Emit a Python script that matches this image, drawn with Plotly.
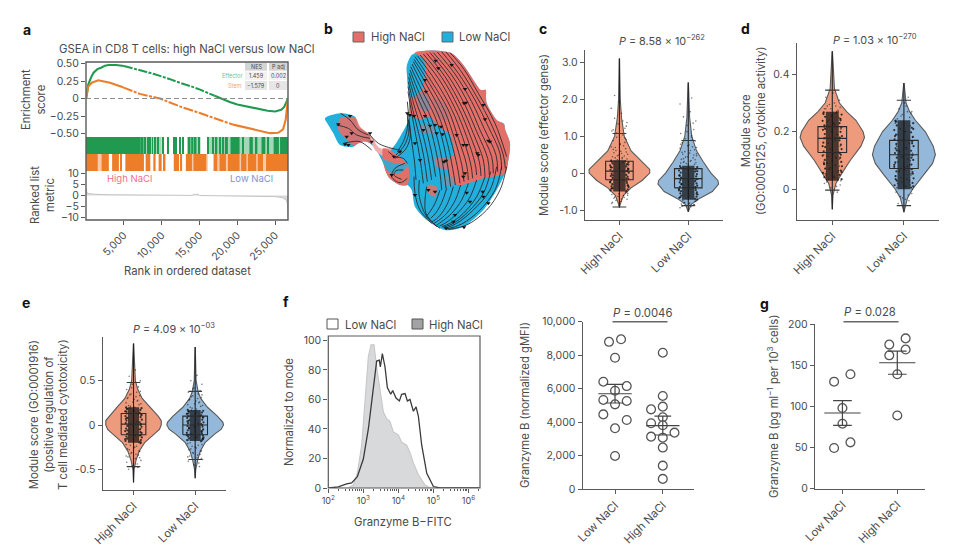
import plotly.graph_objects as go

# ---------- panel a ----------
RANK_GREEN = [0,100,300,500,700,1000,1500,2000,2500,3000,4000,5000,6000,7000,8000,9000,10000,11000,12000,13000,14000,15000,16000,17000,18000,19000,20000,21000,22000,23000,24000,25000,25800,26200,26500,26700]
ES_GREEN = [0,.05,.2,.27,.31,.37,.42,.44,.47,.48,.48,.465,.44,.41,.38,.35,.32,.28,.24,.21,.17,.13,.08,.04,-.01,-.05,-.085,-.11,-.13,-.15,-.175,-.185,-.16,-.12,-.05,0]
RANK_ORANGE = [0,100,300,750,1630,3170,4900,7100,9770,12400,15050,17250,19450,22100,24300,25400,26050,26400,26570,26700]
ES_ORANGE = [0,.08,.17,.226,.26,.226,.16,.066,0,-.113,-.208,-.29,-.373,-.443,-.495,-.49,-.44,-.3,-.11,0]
GREEN_SPANS = [[0,7250],[7400,7600],[7750,7850],[8100,8300],[8450,8600],[8750,8850],[9050,9250],[9500,9650],[10050,10200],[10800,10950],[11500,11650],[11800,11950],[12350,12500],[12800,12950],[13450,13800],[13900,14200],[14350,14600],[14800,15100],[16100,16250],[16700,16900],[17050,17350],[17600,17850],[18100,18250],[18500,18750],[19100,20300],[20700,20850],[21600,22050],[22450,22650],[23200,23700],[24050,24200],[24800,25500],[25650,26700]]
GREEN_FAINT = [[7250,10000],[13400,15000],[16000,26700]]
ORANGE_SPANS = [[0,1550],[2030,3020],[3450,4350],[4500,4650],[5200,7660],[7880,8500],[8900,9200],[9600,10000],[10300,10500],[11600,12300],[12500,12700],[13200,14000],[14200,15900],[16900,17350],[17650,18500],[18750,20300],[20500,21200],[21400,22500],[22700,23400],[23800,26700]]
ORANGE_FAINT = [[0,2000],[13400,16100],[16800,26700]]
METRIC_RANK = [0,60,300,1000,3000,5000,10000,14000,14200,14800,15000,20000,23000,25000,26000,26500,26650,26700]
METRIC_VAL = [3,1.6,.9,.6,.35,.3,.15,.05,.5,.5,0,-.1,-.2,-.5,-1,-2.2,-4,-10]
A_TICKS = [5000,10000,15000,20000,25000]
A_TICKTEXT = ["5,000","10,000","15,000","20,000","25,000"]

# ---------- panel b (embedding coordinates) ----------
BODY_X = [275,300,350,395,430,470,482,497,498,500,530,552,555,570,565,555,530,490,430,375,320,285,275,262,240,205,190,165,150,115,105,60,15,25,40,60,100,130,180,215,240,265,268,260]
BODY_Y = [135,125,122,130,165,225,240,240,262,280,330,342,358,400,450,490,540,600,650,660,630,590,540,525,525,500,460,410,375,350,320,310,325,345,370,405,410,390,420,415,380,330,250,170]
RED_X = [285,350,395,430,470,482,497,498,500,530,552,555,570,565,555,490,425,400,385,400,390,350,330,300,270,272,305,312]
RED_Y = [128,122,130,165,225,240,240,262,280,330,342,358,400,450,490,505,525,520,460,430,375,345,320,330,310,260,240,150]
BLUEP1_X = [272,300,312,300,285,268,262]
BLUEP1_Y = [150,140,190,240,262,250,190]
MIX_A_X = [290,320,330,305]
MIX_A_Y = [250,255,300,300]
MIX_B_X = [340,375,385,350]
MIX_B_Y = [265,280,330,320]
RED_C_X = [345,395,400,350]
RED_C_Y = [445,450,478,470]
RED_D_X = [300,340,345,305]
RED_D_Y = [345,350,370,368]
RED2_X = [325,350,345,325]
RED2_Y = [525,530,560,550]
RED3_X = [370,405,400,372]
RED3_Y = [500,505,525,525]
ISLE_RED_X = [60,105,120,150,165,130,100,75,55]
ISLE_RED_Y = [325,322,350,375,400,395,405,385,360]
ISLE_PINK_X = [150,180,215,195,165]
ISLE_PINK_Y = [375,415,415,440,420]
NECK_RED_X = [190,240,265,262,240,205,190]
NECK_RED_Y = [415,440,470,525,525,500,460]
NECK_BLUE_X = [190,225,262,240,205]
NECK_BLUE_Y = [450,460,465,490,485]
STREAMS = [
 ([390,430,475,525,560],[128,175,250,340,440]),
 ([378,422,470,515,550,556],[126,182,260,345,435,475]),
 ([365,415,465,505,540,545],[125,190,270,350,430,480]),
 ([352,405,455,492,528,533],[126,192,275,355,435,485]),
 ([340,395,445,480,515,520],[128,195,280,360,440,490]),
 ([330,385,435,470,503,508],[128,198,285,365,445,495]),
 ([320,375,425,460,490,495],[130,200,290,370,450,500]),
 ([310,365,415,450,478,483],[132,202,292,375,455,498]),
 ([300,355,405,440,465,470],[135,205,295,380,460,495]),
 ([292,345,395,428,452,458],[137,210,298,382,462,505]),
 ([285,335,385,415,440,445],[140,215,300,385,465,510]),
 ([282,328,375,404,426,432],[148,220,305,388,468,515]),
 ([280,320,365,392,412,420],[155,225,310,390,470,520]),
 ([276,312,355,381,398,406],[162,232,315,395,475,525]),
 ([272,305,345,370,385,392],[170,240,320,400,480,530]),
 ([270,298,335,357,372,378],[180,250,328,405,485,535]),
 ([268,292,325,345,360,365],[190,260,335,410,490,540]),
 ([266,287,315,333,347],[202,272,348,420,500]),
 ([265,282,305,322,335],[215,285,360,430,510]),
 ([264,278,296,311,322],[230,298,370,438,515]),
 ([264,275,288,300,310],[245,310,380,445,520]),
 ([262,268,275,283,288],[275,335,395,450,510]),
 ([262,262,250,232],[310,355,395,425]),
 ([265,266,252,228],[328,370,408,435]),
 ([268,270,255,225],[345,385,420,445]),
 ([560,540,500,440,385],[470,540,600,645,658]),
 ([545,525,480,425,380],[470,540,600,642,657]),
 ([530,510,460,410,375],[470,540,600,640,655]),
 ([512,490,445,400,370],[485,550,605,640,652]),
 ([495,470,430,390,365],[500,560,610,640,650]),
 ([470,448,412,378,358],[510,565,610,638,648]),
 ([445,425,395,365,350],[520,570,610,635,645]),
 ([422,405,380,355,342],[525,572,610,632,640]),
 ([400,385,365,345,335],[530,575,610,630,635]),
 ([380,365,348,332],[535,578,608,625]),
 ([360,345,330,318],[540,580,605,620]),
 ([320,315,318,350],[530,570,610,650]),
 ([298,298,320,360],[510,560,620,655]),
 ([282,285,300,335],[500,550,600,640]),
 ([255,225,215,240,262],[460,475,500,518,505]),
 ([250,228,222,245],[480,482,495,508]),
 ([205,225,250,262],[425,440,445,460]),
 ([62,90,115,145],[310,330,360,375]),
 ([50,85,110,150],[345,355,375,385]),
 ([70,95,120,155],[400,395,395,420]),
 ([150,175,215,240],[375,400,415,420]),
]
ARROW_X = [347,355,395,315,318,435,432,438,490,495,315,262,270,282,345,363,350,368,410,430,440,505,510,475,472,435,430,372,378,330,310,345,440,488,490,505,450,405,400,378,432,285,222,240,215,95,80,55,150,155,75,85,90,285,300,325]
ARROW_Y = [152,175,165,210,245,237,280,278,285,328,318,310,315,318,345,350,370,373,375,405,405,392,395,435,430,490,500,455,452,347,360,545,548,545,560,580,575,615,635,655,652,555,440,425,495,370,380,343,370,395,403,405,318,400,450,540]

# ---------- panels c, d, e: violins ----------
CATS_VIOLIN = ["High NaCl","Low NaCl"]
C_HIGH_Y = [3.1,2,1.5,1.0,.6,.3,.1,0,-.2,-.4,-.6,-.8,-.93]
C_HIGH_W = [.002,.012,.03,.07,.17,.33,.44,.44,.33,.17,.06,.02,0]
C_LOW_Y = [2.45,1.5,1.0,.6,.3,0,-.2,-.3,-.5,-.7,-.85,-1.05]
C_LOW_W = [.002,.02,.05,.12,.22,.33,.43,.44,.35,.15,.04,0]
D_HIGH_Y = [.48,.35,.3,.27,.24,.2,.18,.15,.1,.05,.02,-.02,-.07]
D_HIGH_W = [.002,.03,.10,.2,.33,.43,.45,.40,.25,.12,.05,.01,0]
D_LOW_Y = [.37,.3,.27,.24,.2,.15,.12,.09,.05,0,-.03,-.06,-.08]
D_LOW_W = [.002,.03,.08,.16,.30,.41,.44,.40,.28,.12,.05,.02,0]
E_HIGH_Y = [.92,.5,.4,.3,.2,.1,.05,0,-.05,-.1,-.2,-.3,-.4,-.5,-.65]
E_HIGH_W = [.002,.03,.07,.14,.27,.4,.45,.45,.42,.34,.18,.09,.04,.01,0]
E_LOW_Y = [.88,.5,.37,.3,.2,.1,.03,0,-.05,-.1,-.2,-.3,-.4,-.5,-.6]
E_LOW_W = [.002,.015,.05,.09,.2,.36,.45,.46,.42,.32,.16,.08,.04,.01,0]
# q1, median, q3, lower whisker, upper whisker, core low, core high
C_HIGH_BOX = [-.18,.05,.32,-.92,1.07,-.5,.35]
C_LOW_BOX = [-.4,-.15,.12,-.88,.88,-.72,.2]
D_HIGH_BOX = [.128,.177,.218,-.003,.345,.03,.27]
D_LOW_BOX = [.072,.12,.17,-.057,.31,.0,.24]
E_HIGH_BOX = [-.11,.01,.13,-.47,.48,-.2,.2]
E_LOW_BOX = [-.11,0,.1,-.39,.38,-.18,.17]
JITTER = [.03,-.07,.11,-.02,.08,-.11,.05,-.04,.1,-.09,.01,.06,-.12,.09,-.05,.02,-.08,.12,-.01,.07,-.1,.04,-.06,.11,-.03,.09,-.12,.05,.0,-.07,.1,-.04,.08,-.09,.03,.12,-.11,.06,-.02,.07,-.08,.11,-.05,.02,-.1,.09,-.03,.04,-.12,.1,-.06,.01,.08,-.09,.05,-.01,.12,-.07,.03,-.11]
C_HIGH_DOTS = [1.62,1.48,1.37,1.33,1.21,1.14,1.03,.97,.91,.88,.79,.74,.71,.66,.61,.59,.55,.51,.49,.46,.44,.42,.41,.38,.36,.33,1.75,.28,1.92,2.1,1.27,1.08,.83,.64,.53,-.55,-.58,-.61,-.63,-.66,-.68,-.71,-.74,-.77,-.79,-.52,.47,.39,.35,.57,.69,.77,.95,1.17,1.41,-.56,-.6,-.65,-.7,-.82]
C_LOW_DOTS = [1.66,1.52,1.41,1.29,1.18,1.07,1.01,.93,.87,.82,.76,.71,.67,.63,.58,.54,.51,.47,.44,.41,.37,.34,.31,.28,.26,.24,1.87,2.03,.23,.29,.36,.43,.49,.56,.61,.69,.78,.9,1.12,1.35,-.74,-.77,-.79,-.81,-.84,-.86,-.88,-.91,-.94,-.76,-.8,-.83,-.85,-.9,.97,.74,.52,.39,.32,.27]
D_HIGH_DOTS = [.3,.29,.285,.28,.275,.28,.29,.295,.31,.32,.335,.27,.26,.25,.24,.23,.22,.21,.2,.19,.18,.17,.16,.15,.14,.13,.12,.11,.1,.09,.08,.07,.06,.05,.04,.03,.02,.01,.005,-.01,.025,.015,.035,.045,.055,.065,.075,.085,.095,.105,.115,.125,.27,.28,.265,.255,.245,.235,.225,.215]
D_LOW_DOTS = [.29,.28,.27,.26,.25,.24,.27,.255,.265,.245,.3,.32,.23,.22,.21,.2,.19,.18,.17,.16,.15,.14,.13,.12,.11,.1,.09,.08,.07,.06,.05,.04,.03,.02,.01,.0,-.01,-.02,-.03,-.04,-.05,-.015,-.025,-.035,.005,.015,.025,.035,.045,.055,.065,.075,.085,.095,.105,.115,.125,.135,.145,.155]
E_HIGH_DOTS = [.62,.55,.5,.46,.43,.4,.37,.35,.33,.31,.29,.27,.25,.23,.21,.2,.22,.24,.26,.28,.3,.32,.34,.38,.42,-.2,-.22,-.24,-.26,-.28,-.3,-.32,-.34,-.36,-.38,-.4,-.42,-.44,-.46,-.48,-.5,-.21,-.23,-.25,-.27,-.29,-.31,-.33,-.35,-.37,.19,.16,.12,.08,.04,0,-.04,-.08,-.12,-.16]
E_LOW_DOTS = [.56,.5,.46,.42,.39,.37,.35,.33,.31,.29,.27,.25,.23,.21,.19,.18,.2,.22,.24,.26,.28,.3,.32,.34,.41,-.19,-.21,-.23,-.25,-.27,-.29,-.31,-.33,-.35,-.37,-.39,-.41,-.43,-.45,-.47,-.2,-.22,-.24,-.26,-.28,-.3,-.32,-.34,-.36,-.38,.17,.14,.1,.06,.02,-.02,-.06,-.1,-.14,-.17]
# dots on the rough outer edge of each dense cloud
EDGE_JITTER = [-.12,.13,-.1,.11,-.135,.1,-.11,.125,-.13,.115,-.105,.135,-.115,.1,-.125,.12,-.1,.13,-.12,.105,-.135,.11,-.105,.125,-.115,.135,-.1,.12,-.13,.1,-.11,.13,-.125,.115,-.1,.105,-.135,.12,-.115,.13]
C_HIGH_CORE = [.33,.29,.26,.24,.21,.18,.15,.12,.09,.07,.04,.01,-.02,-.05,-.08,-.1,-.13,-.16,-.19,-.22,-.24,-.27,-.3,-.33,-.36,-.38,-.41,-.44,-.47,-.49,.31,.23,.16,.05,-.06,-.14,-.25,-.34,-.42,.11]
C_LOW_CORE = [.19,.16,.13,.1,.07,.04,.01,-.03,-.06,-.09,-.12,-.16,-.19,-.22,-.25,-.28,-.31,-.34,-.37,-.4,-.43,-.46,-.49,-.52,-.55,-.58,-.61,-.64,-.67,-.7,.14,.05,-.07,-.17,-.29,-.38,-.47,-.56,-.65,-.72]
D_HIGH_CORE = [.268,.26,.252,.245,.238,.23,.222,.215,.207,.2,.192,.185,.177,.17,.162,.155,.147,.14,.132,.125,.117,.11,.102,.095,.087,.08,.072,.065,.057,.05,.042,.035,.263,.24,.21,.18,.15,.12,.09,.06]
D_LOW_CORE = [.238,.23,.222,.214,.206,.198,.19,.182,.174,.166,.158,.15,.142,.134,.126,.118,.11,.102,.094,.086,.078,.07,.062,.054,.046,.038,.03,.022,.014,.006,.235,.21,.185,.16,.135,.11,.085,.06,.035,.01]
E_HIGH_CORE = [.2,.19,.18,.17,.155,.14,.13,.12,.1,.09,.08,.06,.05,.03,.02,.01,-.01,-.02,-.04,-.05,-.07,-.08,-.1,-.11,-.13,-.14,-.15,-.17,-.18,-.19,.185,.11,.07,.0,-.06,-.12,-.16,-.2,.15,-.09]
E_LOW_CORE = [.17,.16,.15,.14,.125,.11,.1,.09,.08,.06,.05,.03,.02,.01,-.01,-.02,-.04,-.05,-.06,-.08,-.09,-.1,-.11,-.12,-.13,-.14,-.15,-.16,-.17,-.18,.155,.085,.04,.0,-.03,-.07,-.115,-.165,.13,-.15]

# ---------- panel f: histogram ----------
LOW_X = [100,193,334,464,674,1000,1390,1930,2400,2860,3060,3490,4160,4850,6040,6880,8570,10700,12400,15500,18100,21500,26800,32000,37300,46400,64600,100000,155000,2100000]
LOW_Y = [0,.7,2.8,3.5,7.6,19.6,40,68,86,86.6,82,91,82,68,63.5,66,61,59,63.5,64,59,60,52,55,48.5,29,10,1,0,0]
HIGH_X = [100,373,518,674,896,1000,1390,1660,2020,2400,2990,3730,4640,5780,7200,10000,12400,17300,21500,26800,37300,57800,80300,2100000]
HIGH_Y = [0,0,2,10,29,45,89,97,97,82,66,51.5,47,45,38,36,31,29,24,17,9,2,0,0]
F_TICKV = [100,1000,10000,100000,1000000]
F_TICKT = ["10<sup>2</sup>","10<sup>3</sup>","10<sup>4</sup>","10<sup>5</sup>","10<sup>6</sup>"]

# ---------- dot plots ----------
F2_CATS = ["Low NaCl","High NaCl"]
F2_LOW_OFF = [.126,-.126,0,-.245,.245,0,-.245,.245,0,-.245,.245,0,0]
F2_LOW_VAL = [8950,8800,7850,6420,6160,5880,5330,5270,5070,4470,4135,3640,1990]
F2_HIGH_OFF = [0,0,0,-.245,0,-.245,0,.245,-.245,0,0,0,0]
F2_HIGH_VAL = [8150,5570,4930,4770,4300,3940,3820,3380,3140,3080,2490,1410,620]
F2_STATS = [[5700,5150,6260],[3800,3240,4370]]
G_CATS = ["Low NaCl","High NaCl"]
G_LOW_OFF = [-.152,.146,0,0,.146,-.152]
G_LOW_VAL = [130,139,98,79,56.4,49.5]
G_HIGH_OFF = [.152,-.146,.152,-.146,0,0]
G_HIGH_VAL = [182.5,175,169,162,139,89]
G_STATS = [[92,77,107],[153,139,167]]

FONT = "Inter"
TXT = "#4a4a4a"
AXC = "#5a5a5a"
RED = "#e46f68"
BLUE = "#22afdb"
GREEN = "#1f9a50"
ORANGE = "#ee7d2a"
HI = "#ee9a7c"
LO = "#93b8d9"
W, H = 960, 546
LAB = 11.3
CATFONT = dict(family=FONT, size=11.3, color=TXT)

def px(x): return x / W
def py(y): return 1 - y / H

fig = go.Figure()
layout = {}
shapes = []
annos = []

def note(x, y, t, size=10.5, color=TXT, angle=0, anchor="center", bold=False, va="middle"):
    annos.append(dict(x=px(x), y=py(y), xref="paper", yref="paper", text=("<b>%s</b>" % t) if bold else t,
                      showarrow=False, xanchor=anchor, yanchor=va, textangle=angle,
                      font=dict(family=FONT, size=size, color=color), align="center"))

def rect(x0, y0, x1, y1, fill="rgba(0,0,0,0)", line=AXC, lw=1.2, layer="above"):
    shapes.append(dict(type="rect", xref="paper", yref="paper", x0=px(x0), x1=px(x1), y0=py(y0), y1=py(y1),
                       fillcolor=fill, line=dict(color=line, width=lw), layer=layer))

def seg(x0, y0, x1, y1, color=AXC, lw=1.3):
    shapes.append(dict(type="line", xref="paper", yref="paper", x0=px(x0), x1=px(x1), y0=py(y0), y1=py(y1),
                       line=dict(color=color, width=lw)))

def axis(kind, n, dom, **kw):
    base = dict(domain=[px(dom[0]), px(dom[1])] if kind == "x" else [py(dom[1]), py(dom[0])],
                showgrid=False, zeroline=False, ticks="outside", ticklen=4, tickwidth=1, tickcolor=AXC,
                linecolor=AXC, linewidth=1.3, showline=True,
                tickfont=dict(family=FONT, size=10.5, color=TXT), automargin=False, fixedrange=True)
    base.update(kw)
    layout[("xaxis" if kind == "x" else "yaxis") + (str(n) if n > 1 else "")] = base

def T(*a, **k):
    k.setdefault("showlegend", False)
    k.setdefault("hoverinfo", "skip")
    fig.add_trace(go.Scatter(*a, **k))

# ---- a ----
axis("x", 1, (86, 288), range=[0, 26700], anchor="y4", tickvals=A_TICKS, ticktext=A_TICKTEXT, tickangle=-45, showline=False)
axis("y", 1, (62, 137), range=[-.55, .522], anchor="x", showline=False, tickvals=[-.5, -.25, 0, .25, .5],
     ticktext=["−0.50", "−0.25", "0", "0.25", "0.50"])
axis("y", 2, (137, 154), range=[0, 1], anchor="x", showline=False, showticklabels=False, ticks="")
axis("y", 3, (154, 171), range=[0, 1], anchor="x", showline=False, showticklabels=False, ticks="")
axis("y", 4, (171, 220), range=[-11, 11], anchor="x", showline=False, tickvals=[-10, -5, 0, 5, 10],
     ticktext=["−10", "−5", "0", "5", "10"])

def rug(spans, color, yax, op):
    fig.add_trace(go.Bar(x=[(s + e) / 2 for s, e in spans], y=[1] * len(spans), width=[e - s for s, e in spans],
                         marker=dict(color=color, line=dict(width=0)), opacity=op, xaxis="x", yaxis=yax,
                         showlegend=False, hoverinfo="skip"))
rug(GREEN_FAINT, GREEN, "y2", .4)
rug(GREEN_SPANS, GREEN, "y2", 1)
rug(ORANGE_FAINT, ORANGE, "y3", .4)
rug(ORANGE_SPANS, ORANGE, "y3", 1)
shapes.append(dict(type="line", xref="x", yref="y", x0=0, x1=26700, y0=0, y1=0, line=dict(color="#8c8c8c", width=1.2, dash="5px,3px")))
T(x=RANK_GREEN[:12], y=ES_GREEN[:12], mode="lines", line=dict(color=GREEN, width=2.1), xaxis="x", yaxis="y")
T(x=RANK_GREEN[11:24], y=ES_GREEN[11:24], mode="lines", line=dict(color=GREEN, width=2, dash="9px,1.5px,3px,1.5px"), xaxis="x", yaxis="y")
T(x=RANK_GREEN[23:], y=ES_GREEN[23:], mode="lines", line=dict(color=GREEN, width=2.1), xaxis="x", yaxis="y")
T(x=RANK_ORANGE[:7], y=ES_ORANGE[:7], mode="lines", line=dict(color=ORANGE, width=2.1), xaxis="x", yaxis="y")
T(x=RANK_ORANGE[6:13], y=ES_ORANGE[6:13], mode="lines", line=dict(color=ORANGE, width=2, dash="10px,1.5px,3px,1.5px"), xaxis="x", yaxis="y")
T(x=RANK_ORANGE[12:], y=ES_ORANGE[12:], mode="lines", line=dict(color=ORANGE, width=2.1), xaxis="x", yaxis="y")
T(x=METRIC_RANK, y=METRIC_VAL, mode="lines", fill="tozeroy", fillcolor="#d9d9d9", line=dict(color="#c4c4c4", width=1), xaxis="x", yaxis="y4")
rect(86, 62, 288, 220, lw=1.4)
note(187, 49, "GSEA in CD8 T cells: high NaCl versus low NaCl", 11.3)
note(33, 100, "Enrichment<br>score", LAB, angle=-90)
note(42, 195, "Ranked list<br>metric", LAB, angle=-90)
note(187, 271, "Rank in ordered dataset", LAB)
note(129, 179, "High NaCl", 9.5, "#ee6f8e")
note(251, 179, "Low NaCl", 9.5, "#7f92cf")
rect(245, 62.7, 267, 70.7, "#d4d4d4", "#d4d4d4", 0, "below")
rect(269, 62.7, 287, 70.7, "#d4d4d4", "#d4d4d4", 0, "below")
rect(245, 71.5, 267, 80, "#f2f2f2", "#f2f2f2", 0, "below")
rect(269, 71.5, 287, 80, "#f2f2f2", "#f2f2f2", 0, "below")
rect(245, 81, 267, 90, "#e6e6e6", "#e6e6e6", 0, "below")
rect(269, 81, 287, 90, "#e6e6e6", "#e6e6e6", 0, "below")
note(256, 66.7, "NES", 5.5)
note(278, 66.7, "P adj", 5.5)
note(244, 76, "Effector", 5.5, "#6fbf8c", anchor="right")
note(256, 76, "1.459", 5.5)
note(278, 76, "0.002", 5.5)
note(243, 85.5, "Stem", 5.5, "#f4a56c", anchor="right")
note(256, 85.5, "−1.579", 5.5)
note(278, 85.5, "0", 5.5)

# ---- b ----
axis("x", 2, (320, 520), range=[0, 600], anchor="y5", visible=False)
axis("y", 5, (10, 260), range=[750, 0], anchor="x2", visible=False)
def poly(xs, ys, color, op=1):
    T(x=xs + xs[:1], y=ys + ys[:1], mode="lines", fill="toself", fillcolor=color,
      line=dict(color=color, width=0, shape="spline", smoothing=.8), opacity=op, xaxis="x2", yaxis="y5")
poly(BODY_X, BODY_Y, BLUE)
poly(RED_X, RED_Y, RED)
poly(BLUEP1_X, BLUEP1_Y, BLUE, .9)
poly(MIX_A_X, MIX_A_Y, "#7f8ca5", .85)
poly(MIX_B_X, MIX_B_Y, "#b0767c", .7)
poly(RED_C_X, RED_C_Y, RED, .8)
poly(RED_D_X, RED_D_Y, "#8d8ba0", .8)
poly(RED2_X, RED2_Y, RED, .85)
poly(RED3_X, RED3_Y, "#8d8ba0", .7)
poly(ISLE_RED_X, ISLE_RED_Y, RED, .9)
poly(ISLE_PINK_X, ISLE_PINK_Y, "#eeb0ae")
poly(NECK_RED_X, NECK_RED_Y, RED)
poly(NECK_BLUE_X, NECK_BLUE_Y, BLUE, .85)
for xs, ys in STREAMS:
    T(x=xs, y=ys, mode="lines", line=dict(color="#26262b", width=1, shape="spline", smoothing=1), opacity=.85, xaxis="x2", yaxis="y5")
T(x=ARROW_X, y=ARROW_Y, mode="markers", marker=dict(symbol="triangle-down", size=4, color="#141414"), xaxis="x2", yaxis="y5")
rect(353, 32, 364, 42, RED, "#666", 1)
rect(442, 32, 453, 42, BLUE, "#666", 1)
note(369, 37, "High NaCl", LAB, anchor="left")
note(457, 37, "Low NaCl", LAB, anchor="left")

# ---- violins ----
def violin(xa, ya, cat, ys, ws, box, color, dots, core, boxw, capw):
    xax, yax = xa, ya
    T(x=[cat - w for w in ws] + [cat + w for w in reversed(ws)], y=ys + ys[::-1], mode="lines", fill="toself",
      fillcolor=color, line=dict(color="#5a5a5a", width=1.1), xaxis=xax, yaxis=yax)
    T(x=[cat, cat], y=[ys[0], ys[-1]], mode="lines", line=dict(color="#222", width=1.1), xaxis=xax, yaxis=yax)
    q1, med, q3, lo, hi, c0, c1 = box
    T(x=[cat - .09, cat + .09, cat + .09, cat - .09, cat - .09], y=[c0, c0, c1, c1, c0], mode="lines", fill="toself",
      fillcolor="rgba(15,15,15,.72)", line=dict(width=0), xaxis=xax, yaxis=yax)
    T(x=[cat + j for j in JITTER], y=dots, mode="markers", marker=dict(size=1.6, color="#111", opacity=.55), xaxis=xax, yaxis=yax)
    T(x=[cat + j for j in EDGE_JITTER], y=core, mode="markers", marker=dict(size=2.2, color="#111", opacity=.8), xaxis=xax, yaxis=yax)
    T(x=[cat - boxw, cat + boxw, cat + boxw, cat - boxw, cat - boxw], y=[q1, q1, q3, q3, q1], mode="lines",
      line=dict(color="#2a2a2a", width=1.1), xaxis=xax, yaxis=yax)
    T(x=[cat - boxw, cat + boxw], y=[med, med], mode="lines", line=dict(color="#2a2a2a", width=1.2), xaxis=xax, yaxis=yax)
    for v in (lo, hi):
        T(x=[cat - capw, cat + capw], y=[v, v], mode="lines", line=dict(color="#3a3a3a", width=1.1), xaxis=xax, yaxis=yax)

axis("x", 3, (585, 722.7), range=[-.5, 1.5], anchor="y6", tickvals=[0, 1], ticktext=CATS_VIOLIN, tickangle=-45, tickfont=CATFONT)
axis("y", 6, (50, 220), range=[-1.27, 3.33], anchor="x3", tickvals=[-1, 0, 1, 2, 3], ticktext=["-1.0", "0", "1.0", "2.0", "3.0"])
violin("x3", "y6", 0, C_HIGH_Y, C_HIGH_W, C_HIGH_BOX, HI, C_HIGH_DOTS, C_HIGH_CORE, .2, .1)
violin("x3", "y6", 1, C_LOW_Y, C_LOW_W, C_LOW_BOX, LO, C_LOW_DOTS, C_LOW_CORE, .2, .1)
note(544, 135, "Module score (effector genes)", LAB, angle=-90)
note(662, 41, "<i>P</i> = 8.58 × 10<sup>−262</sup>", 10.8)

axis("x", 4, (796.7, 939), range=[-.497, 1.49], anchor="y7", tickvals=[0, 1], ticktext=CATS_VIOLIN, tickangle=-45, tickfont=CATFONT)
axis("y", 7, (43, 220), range=[-.107, .509], anchor="x4", tickvals=[0, .2, .4], ticktext=["0", "0.2", "0.4"])
violin("x4", "y7", 0, D_HIGH_Y, D_HIGH_W, D_HIGH_BOX, HI, D_HIGH_DOTS, D_HIGH_CORE, .2, .1)
violin("x4", "y7", 1, D_LOW_Y, D_LOW_W, D_LOW_BOX, LO, D_LOW_DOTS, D_LOW_CORE, .2, .1)
note(753, 131, "Module score<br>(GO:0005125, cytokine activity)", LAB, angle=-90)
note(875, 40, "<i>P</i> = 1.03 × 10<sup>−270</sup>", 10.8)

axis("x", 5, (102.7, 226), range=[-.5, 1.5], anchor="y8", tickvals=[0, 1], ticktext=CATS_VIOLIN, tickangle=-45, tickfont=CATFONT)
axis("y", 8, (336.7, 490), range=[-.734, .997], anchor="x5", tickvals=[-.5, 0, .5], ticktext=["-0.5", "0", "0.5"])
violin("x5", "y8", 0, E_HIGH_Y, E_HIGH_W, E_HIGH_BOX, HI, E_HIGH_DOTS, E_HIGH_CORE, .2, .11)
violin("x5", "y8", 1, E_LOW_Y, E_LOW_W, E_LOW_BOX, LO, E_LOW_DOTS, E_LOW_CORE, .2, .11)
note(48, 415, "Module score (GO:0001916)<br>(positive regulation of<br>T cell mediated cytotoxicity)", LAB, angle=-90)
note(174, 328, "<i>P</i> = 4.09 × 10<sup>−03</sup>", 10.8)

# ---- f histogram ----
axis("x", 6, (328.3, 480), type="log", range=[2, 6.33], anchor="y9", tickvals=F_TICKV, ticktext=F_TICKT, showline=False,
     tickfont=dict(family=FONT, size=9, color=TXT),
     minor=dict(ticks="outside", ticklen=2, tickcolor=AXC, tickwidth=.8, showgrid=False, dtick="D1"))
axis("y", 9, (336, 488), range=[0, 103], anchor="x6", tickvals=[0, 20, 40, 60, 80, 100], showline=False)
T(x=HIGH_X, y=HIGH_Y, mode="lines", fill="tozeroy", fillcolor="#d8d9db", line=dict(color="#c6c7c9", width=1.1), xaxis="x6", yaxis="y9")
T(x=LOW_X, y=LOW_Y, mode="lines", line=dict(color="#3a3a3a", width=1.3), xaxis="x6", yaxis="y9")
rect(328.3, 336, 480, 488, lw=1.2)
rect(327, 319, 338, 329, "#ffffff", "#555", 1)
rect(412, 319, 423, 329, "#a3a3a5", "#555", 1)
note(343, 325, "Low NaCl", LAB, anchor="left")
note(427, 325, "High NaCl", LAB, anchor="left")
note(289, 412, "Normalized to mode", LAB, angle=-90)
note(403, 522, "Granzyme B−FITC", LAB)

# ---- dot plots ----
def dots(xa, ya, cat, offs, vals, stats, mw, cw):
    mean, lo, hi = stats
    T(x=[cat + o for o in offs], y=vals, mode="markers", marker=dict(size=8.8, color="#ffffff", line=dict(color="#555", width=1.3)), xaxis=xa, yaxis=ya)
    T(x=[cat - mw, cat + mw], y=[mean, mean], mode="lines", line=dict(color="#444", width=1.2), xaxis=xa, yaxis=ya)
    T(x=[cat, cat], y=[lo, hi], mode="lines", line=dict(color="#444", width=1.2), xaxis=xa, yaxis=ya)
    for v in (lo, hi):
        T(x=[cat - cw, cat + cw], y=[v, v], mode="lines", line=dict(color="#444", width=1.2), xaxis=xa, yaxis=ya)

axis("x", 7, (582.7, 694.3), range=[-.677, 1.66], anchor="y10", tickvals=[0, 1], ticktext=F2_CATS, tickangle=-45, tickfont=CATFONT)
axis("y", 10, (321.7, 489.3), range=[0, 10000], anchor="x7", tickvals=[0, 2000, 4000, 6000, 8000, 10000],
     ticktext=["0", "2,000", "4,000", "6,000", "8,000", "10,000"])
dots("x7", "y10", 0, F2_LOW_OFF, F2_LOW_VAL, F2_STATS[0], .35, .175)
dots("x7", "y10", 1, F2_HIGH_OFF, F2_HIGH_VAL, F2_STATS[1], .35, .175)
seg(612.5, 321.7, 667.5, 321.7, "#666", 1.4)
note(642, 313, "<i>P</i> = 0.0046", LAB)
note(525, 405, "Granzyme B (normalized gMFI)", LAB, angle=-90)

axis("x", 8, (815, 925), range=[-.5, 1.505], anchor="y11", tickvals=[0, 1], ticktext=G_CATS, tickangle=-45, tickfont=CATFONT)
axis("y", 11, (324, 488.8), range=[0, 200], anchor="x8", tickvals=[0, 50, 100, 150, 200])
dots("x8", "y11", 0, G_LOW_OFF, G_LOW_VAL, G_STATS[0], .33, .17)
dots("x8", "y11", 1, G_HIGH_OFF, G_HIGH_VAL, G_STATS[1], .33, .17)
seg(843.5, 321.7, 898.5, 321.7, "#666", 1.4)
note(870, 312, "<i>P</i> = 0.028", LAB)
note(773, 407, "Granzyme B (pg ml<sup>−1</sup> per 10<sup>3</sup> cells)", LAB, angle=-90)

# ---- panel letters ----
for x, y, t in [(27, 29, "a"), (328, 28, "b"), (543, 28, "c"), (745, 28, "d"), (26, 302, "e"), (286, 301, "f"), (764, 303, "g")]:
    note(x, y, t, 14, "#111", bold=True)

layout.update(width=W, height=H, margin=dict(l=0, r=0, t=0, b=0), paper_bgcolor="white", plot_bgcolor="rgba(0,0,0,0)",
              showlegend=False, barmode="overlay", shapes=shapes, annotations=annos, font=dict(family=FONT, color=TXT))
fig.update_layout(**layout)
fig.write_html("out.html", config=dict(displayModeBar=False),
               post_script="document.body.style.margin='0';document.body.style.overflow='hidden';")
